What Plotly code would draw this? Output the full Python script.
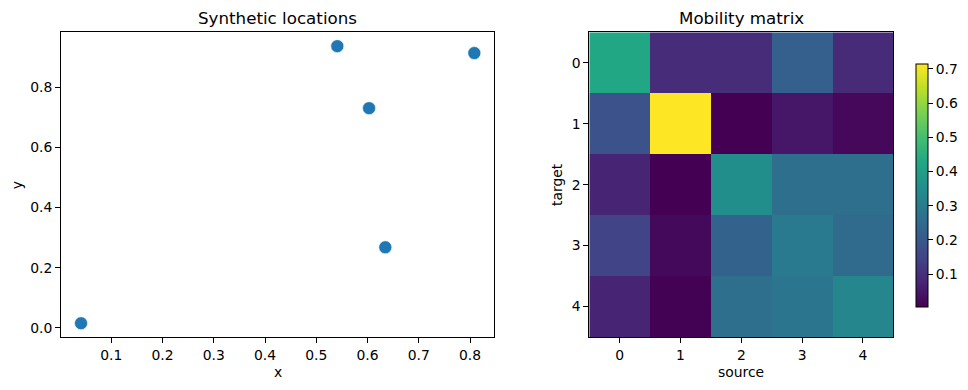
import plotly.graph_objects as go

# Scatter data (synthetic locations)
loc_x = [0.0409, 0.541, 0.603, 0.6347, 0.8084]
loc_y = [0.0156, 0.936, 0.730, 0.268, 0.913]

# Mobility matrix (rows = target, cols = source)
categories = [0, 1, 2, 3, 4]
row0 = [0.428, 0.092, 0.092, 0.217, 0.088]
row1 = [0.182, 0.715, 0.004, 0.047, 0.018]
row2 = [0.075, 0.005, 0.350, 0.262, 0.262]
row3 = [0.146, 0.020, 0.230, 0.295, 0.250]
row4 = [0.075, 0.006, 0.262, 0.280, 0.330]
matrix = [row0, row1, row2, row3, row4]
cbar_ticks = [0.1, 0.2, 0.3, 0.4, 0.5, 0.6, 0.7]

W, H = 968, 390
FONT = "DejaVu Sans"

viridis = [
    [0.0, "#440154"], [0.1, "#482475"], [0.2, "#414487"], [0.3, "#355f8d"],
    [0.4, "#2a788e"], [0.5, "#21918c"], [0.6, "#22a884"], [0.7, "#44bf70"],
    [0.8, "#7ad151"], [0.9, "#bddf26"], [1.0, "#fde725"],
]

def px_x(p):
    return p / W

def px_y(p):
    return 1 - p / H

fig = go.Figure()

fig.add_trace(go.Scatter(
    x=loc_x, y=loc_y, mode="markers",
    marker=dict(size=13, color="#1f77b4", line=dict(width=0.6, color="white")),
    xaxis="x", yaxis="y", showlegend=False,
))

fig.add_trace(go.Heatmap(
    z=matrix, x=categories, y=categories,
    colorscale=viridis, zmin=0.0043, zmax=0.7146,
    xaxis="x2", yaxis="y2",
    colorbar=dict(
        x=px_x(915.7), xanchor="left", y=px_y(185.35), yanchor="middle",
        len=(306.7 - 64) / H, lenmode="fraction",
        thickness=11.6, thicknessmode="pixels",
        outlinewidth=1, outlinecolor="black",
        tickvals=cbar_ticks, tickformat=".1f",
        ticks="outside", ticklen=4.9, tickcolor="black",
        tickfont=dict(family=FONT, size=13.9, color="black"),
        xpad=0, ypad=0,
    ),
))

axis_common = dict(
    showline=True, mirror=True, linecolor="black", linewidth=1,
    ticks="outside", ticklen=4.9, tickcolor="black",
    tickfont=dict(family=FONT, size=13.9, color="black"),
    showgrid=False, zeroline=False,
)

fig.update_layout(
    width=W, height=H,
    margin=dict(l=0, r=0, t=0, b=0),
    paper_bgcolor="white", plot_bgcolor="white",
    font=dict(family=FONT, color="black"),
    xaxis=dict(domain=[px_x(61), px_x(494)], range=[0.0018, 0.8468],
               tickvals=[0.1, 0.2, 0.3, 0.4, 0.5, 0.6, 0.7, 0.8], tickformat=".1f",
               anchor="y", **axis_common),
    yaxis=dict(domain=[px_y(337), px_y(32.3)], range=[-0.030, 0.982],
               tickvals=[0.0, 0.2, 0.4, 0.6, 0.8], tickformat=".1f",
               anchor="x", **axis_common),
    xaxis2=dict(domain=[px_x(589.3), px_x(893.3)], range=[-0.5, 4.5],
                tickvals=categories, anchor="y2", **axis_common),
    yaxis2=dict(domain=[px_y(337), px_y(32.3)], range=[4.5, -0.5],
                tickvals=categories, anchor="x2", **axis_common),
)

annots = [
    ("Synthetic locations", 277.5, 18, 16.7, 0),
    ("Mobility matrix", 741.3, 18, 16.7, 0),
    ("x", 277.5, 372, 13.9, 0),
    ("y", 17.3, 185, 13.9, -90),
    ("source", 741.3, 372, 13.9, 0),
    ("target", 557, 185, 13.9, -90),
]
for text, ax, ay, size, ang in annots:
    fig.add_annotation(
        text=text, x=px_x(ax), y=px_y(ay), xref="paper", yref="paper",
        xanchor="center", yanchor="middle", showarrow=False, textangle=ang,
        font=dict(family=FONT, size=size, color="black"),
    )

fig.write_html(
    "out.html",
    config={"displayModeBar": False},
    post_script="document.body.style.margin='0';document.body.style.overflow='hidden';",
)
